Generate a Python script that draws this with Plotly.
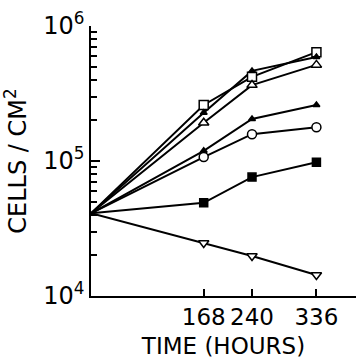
import plotly.graph_objects as go

hours = [0, 168, 240, 336]
start = 41000
open_square = [start, 260000, 420000, 640000]
filled_tri_a = [start, 228000, 465000, 590000]
open_tri = [start, 192000, 365000, 515000]
filled_tri_b = [start, 119000, 205000, 260000]
open_circle = [start, 107000, 158000, 178000]
filled_square = [start, 49000, 76000, 98000]
inv_tri = [start, 24700, 19800, 14300]

x_ticks = [168, 240, 336]
y_ticks = [1e4, 1e5, 1e6]
y_ticktext = ["10<sup>4</sup>", "10<sup>5</sup>", "10<sup>6</sup>"]
y_minor = [m * 10 ** d for d in (4, 5) for m in range(2, 10)]

series = [
    (open_square, "square-open", 9),
    (filled_tri_a, "triangle-up", 6),
    (open_tri, "triangle-up-open", 9),
    (filled_tri_b, "triangle-up", 6),
    (open_circle, "circle-open", 9),
    (filled_square, "square", 8),
    (inv_tri, "triangle-down-open", 9),
]

fig = go.Figure()
for vals, sym, sz in series:
    fig.add_trace(go.Scatter(
        x=hours, y=vals, mode="lines",
        line=dict(color="black", width=2),
        showlegend=False, cliponaxis=False))
for vals, sym, sz in series:
    fig.add_trace(go.Scatter(
        x=hours[1:], y=vals[1:], mode="markers",
        marker=dict(symbol=sym.replace("-open", ""), size=sz,
                    color="white" if "open" in sym else "black",
                    line=dict(color="black", width=1.5)),
        showlegend=False, cliponaxis=False))

fam = "DejaVu Sans"
fig.update_layout(
    width=358, height=360,
    margin=dict(l=91, r=2, t=26, b=64),
    plot_bgcolor="white", paper_bgcolor="white",
    font=dict(family=fam, size=23, color="black"),
    xaxis=dict(range=[0, 395], tickvals=x_ticks, ticks="inside", ticklen=7,
               tickwidth=1.5, tickcolor="black", showline=True, linecolor="black",
               linewidth=1.5, showgrid=False, zeroline=False,
               tickfont=dict(family=fam, size=23),
               title=dict(text="TIME (HOURS)", font=dict(family=fam, size=23),
                          standoff=9)),
    yaxis=dict(type="log", range=[4, 6], tickvals=y_ticks, ticktext=y_ticktext,
               ticks="inside", ticklen=9, tickwidth=1.5, tickcolor="black",
               showline=True, linecolor="black", linewidth=1.5, showgrid=False,
               zeroline=False, tickfont=dict(family=fam, size=24),
               minor=dict(tickvals=y_minor, ticks="inside", ticklen=6,
                          tickwidth=1.5, tickcolor="black", showgrid=False),
               title=dict(text="CELLS / CM<sup>2</sup>",
                          font=dict(family=fam, size=24), standoff=12)),
)
fig.write_html("out.html")
